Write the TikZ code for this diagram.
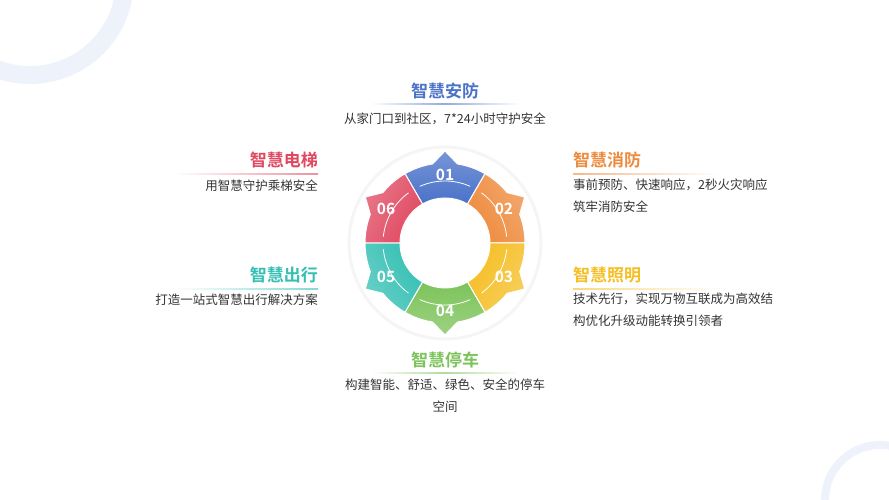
\documentclass[tikz,border=0pt]{standalone}
\usepackage{fontspec}
\setmainfont{Noto Sans CJK SC}
\newfontfamily\bfcjk{Noto Sans CJK SC Bold}
\begin{document}
\begin{tikzpicture}[x=1pt,y=1pt]
\definecolor{cA}{HTML}{4A72C9}\definecolor{cB}{HTML}{EE8A3C}\definecolor{cC}{HTML}{F5BE24}
\definecolor{cD}{HTML}{7CC35A}\definecolor{cE}{HTML}{34BFB3}\definecolor{cF}{HTML}{E04860}
\definecolor{deco}{HTML}{EEF2FB}\definecolor{txt}{HTML}{333333}
\tikzset{ttl/.style={font=\bfcjk\fontsize{17}{19}\selectfont,inner sep=0},
 body/.style={font=\fontsize{12.5}{21.5}\selectfont,text=txt,inner sep=0,align=left},
 num/.style={font=\bfcjk\fontsize{15.5}{17}\selectfont,text=white}}
\useasboundingbox (0,0) rectangle (889,500);
\begin{scope}
\clip (0,0) rectangle (889,500);
\draw[deco,line width=18] (30,520) circle (95);
\draw[deco,line width=8] (880,0) circle (55);
\end{scope}
\coordinate (O) at (445,257);
\fill[white,draw=gray!8,line width=3] (O) circle (96);
\foreach \a/\c/\n in {60/cA/01,0/cB/02,-60/cC/03,-120/cD/04,-180/cE/05,120/cF/06}{
 \pgfmathsetmacro\m{\a+30}
 \shade[shading=axis,top color=\c!75,bottom color=\c,shading angle=\m-90,draw=white,line width=1]
  ([shift={(\a:80)}]O) arc[start angle=\a,end angle=\m-9,radius=80]
  -- ([shift={(\m:92)}]O) -- ([shift={(\m+9:80)}]O)
  arc[start angle=\m+9,end angle=\a+60,radius=80]
  -- ([shift={(\a+60:45)}]O) arc[start angle=\a+60,end angle=\a,radius=45] -- cycle;
 \draw[white,line width=0.8] ([shift={(\a+6:62)}]O) arc[start angle=\a+6,end angle=\a+54,radius=62];
 \node[num] (n\n) at ([shift={(\m:68)}]O) {\n};
}
% top
\node[ttl,text=cA] (t1) at (445,409) {智慧安防};
\shade[left color=white,right color=cA!60,draw=none] (370,395.5) rectangle (445,396.5);
\shade[left color=cA!60,right color=white,draw=none] (445,395.5) rectangle (520,396.5);
\node[body] (b1) at (445,381) {从家门口到社区，7*24小时守护安全};
% left
\node[ttl,text=cF,anchor=east] (t6) at (318,340) {智慧电梯};
\shade[left color=white,right color=cF!60] (175,325.5) rectangle (318,326.5);
\node[body,anchor=east] (b6) at (318,314) {用智慧守护乘梯安全};
\node[ttl,text=cE,anchor=east] (t5) at (318,225) {智慧出行};
\shade[left color=white,right color=cE!60] (175,210.5) rectangle (318,211.5);
\node[body,anchor=east] (b5) at (318,200) {打造一站式智慧出行解决方案};
% right
\node[ttl,text=cB,anchor=west] (t2) at (573,340) {智慧消防};
\shade[left color=cB!60,right color=white] (573,325.5) rectangle (720,326.5);
\node[body,anchor=north west] (b2) at (573,321) {事前预防、快速响应，2秒火灾响应\\筑牢消防安全};
\node[ttl,text=cC,anchor=west] (t3) at (573,225) {智慧照明};
\shade[left color=cC!60,right color=white] (573,210.5) rectangle (720,211.5);
\node[body,anchor=north west] (b3) at (573,207) {技术先行，实现万物互联成为高效结\\构优化升级动能转换引领者};
% bottom
\node[ttl,text=cD] (t4) at (445,140) {智慧停车};
\shade[left color=white,right color=cD!60] (370,126.5) rectangle (445,127.5);
\shade[left color=cD!60,right color=white] (445,126.5) rectangle (520,127.5);
\node[body,align=center,anchor=north] (b4) at (445,121) {构建智能、舒适、绿色、安全的停车\\空间};
\end{tikzpicture}
\end{document}
